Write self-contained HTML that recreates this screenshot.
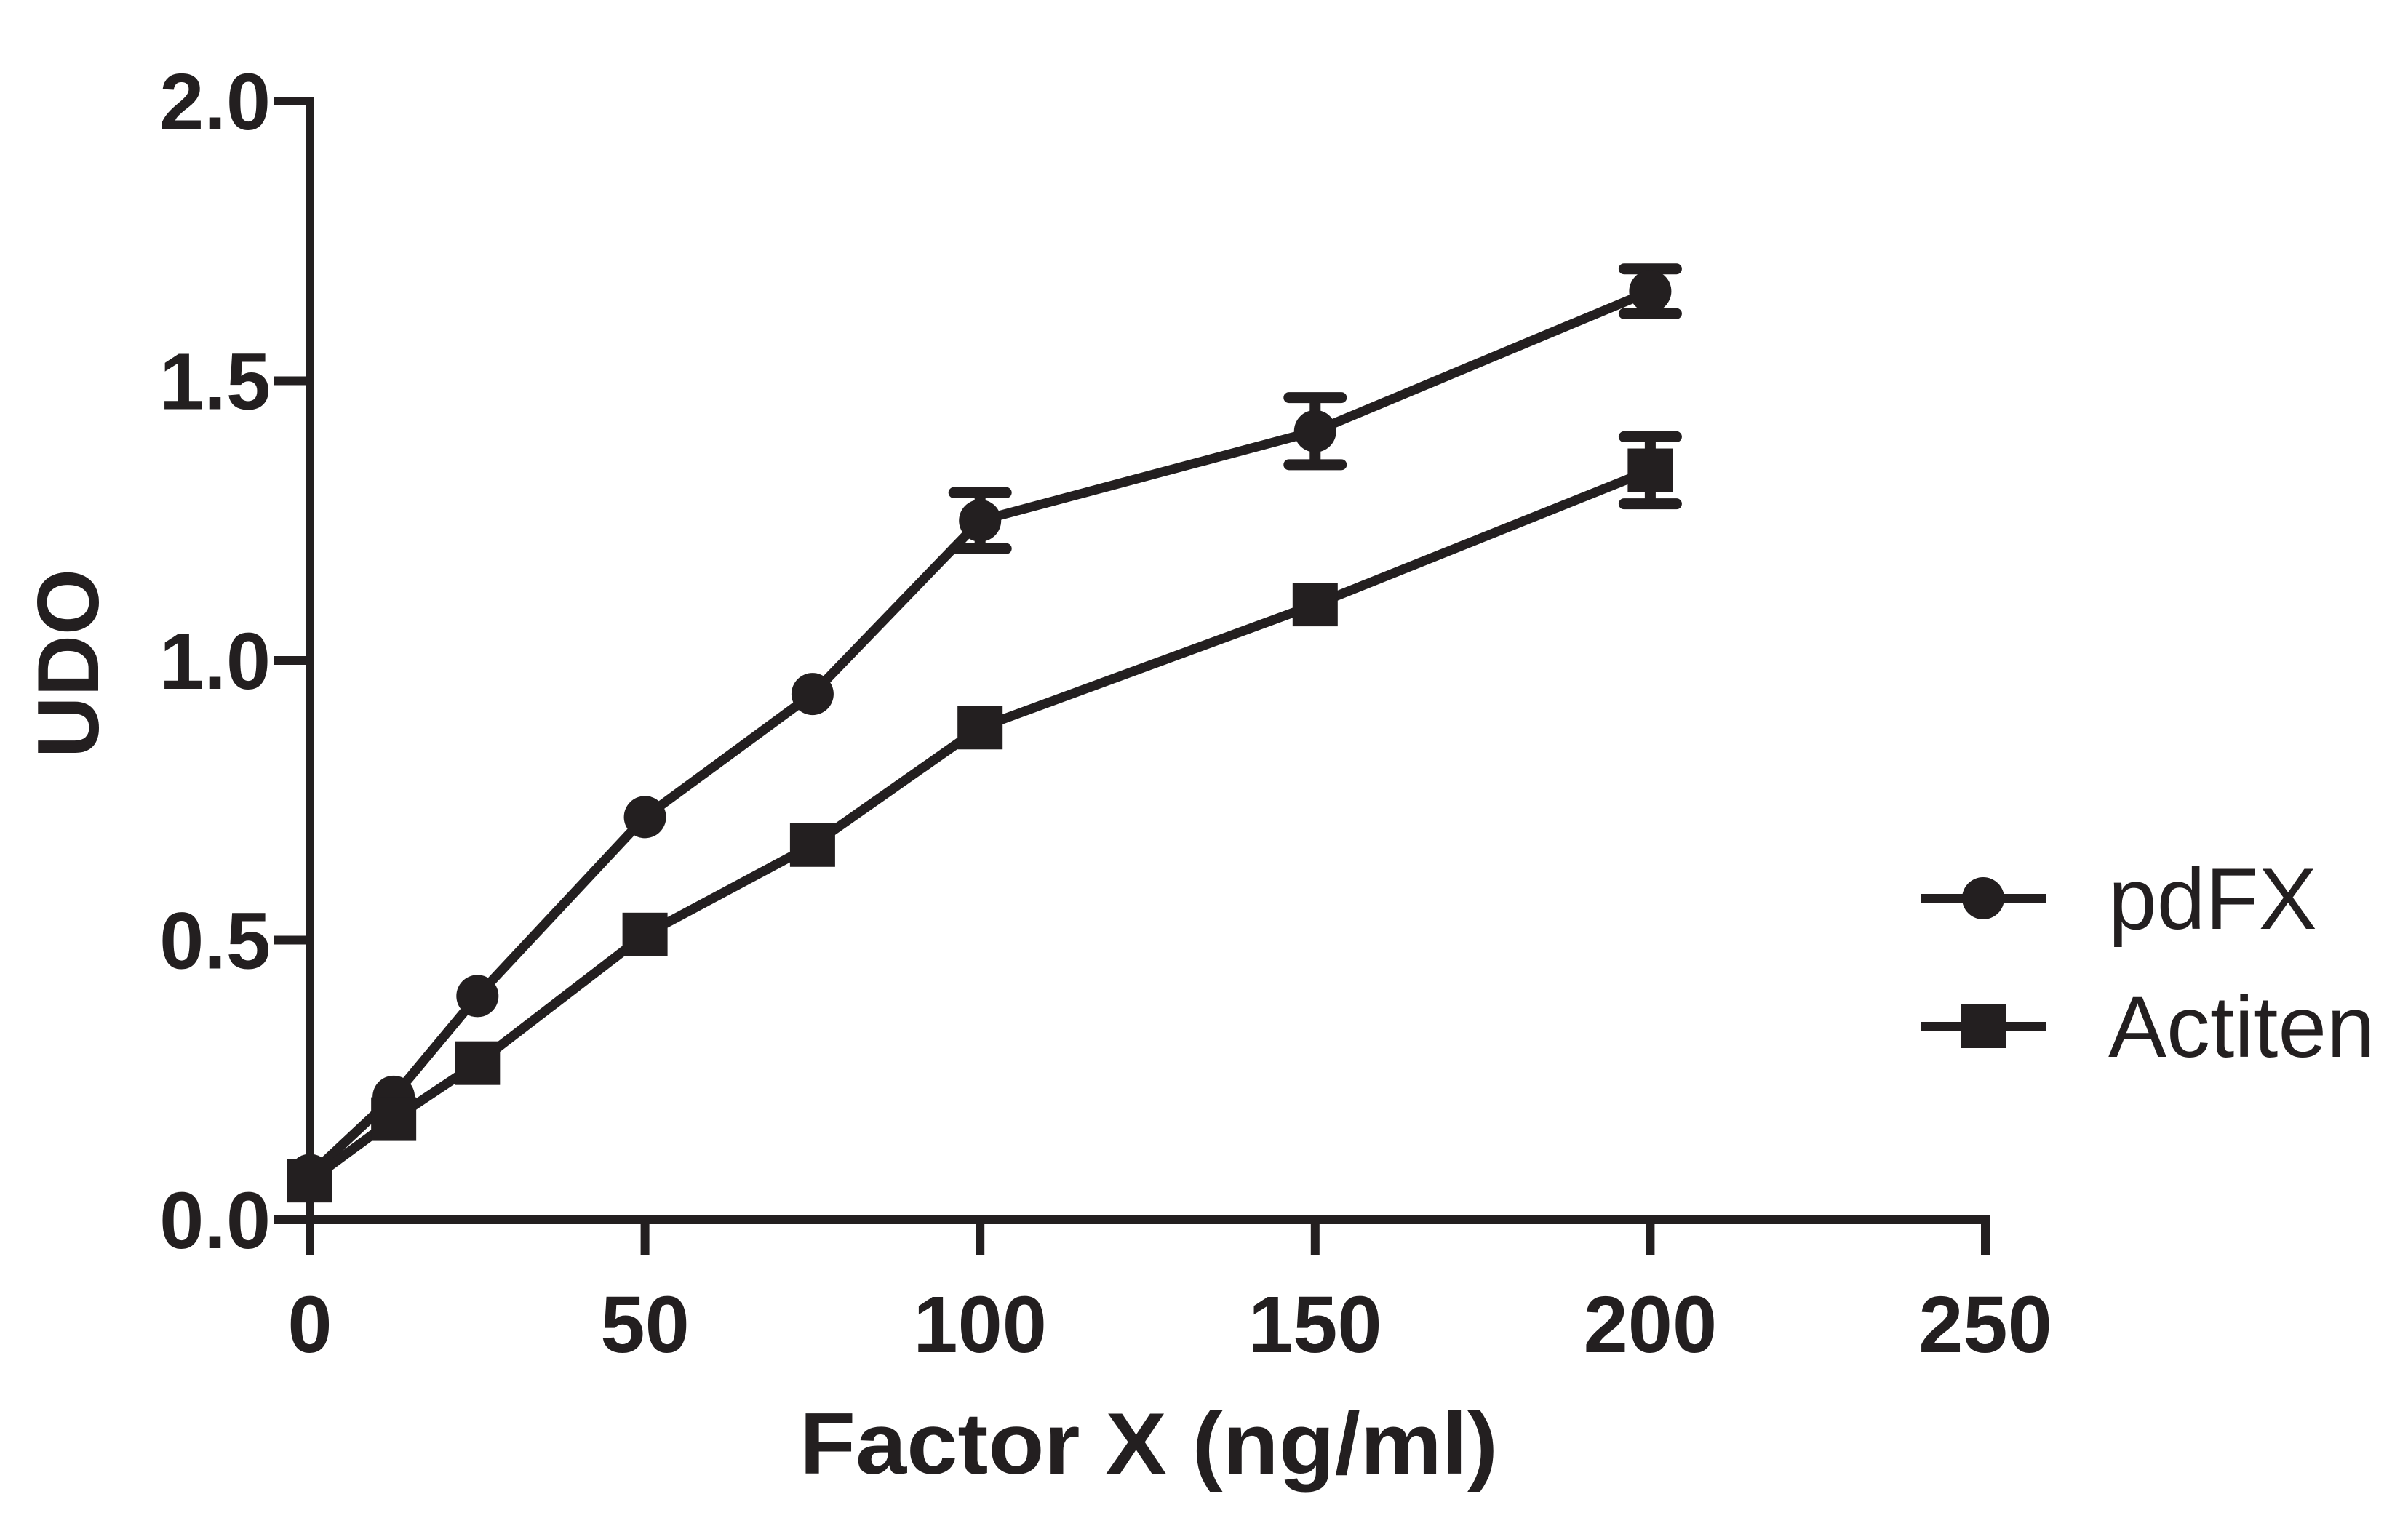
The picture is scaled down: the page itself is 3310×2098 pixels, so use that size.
<!DOCTYPE html>
<html><head><meta charset="utf-8"><style>body{margin:0;background:#fff}svg{display:block}</style></head>
<body>
<svg id="chart" width="3310" height="2098" xmlns="http://www.w3.org/2000/svg" font-family="Liberation Sans, sans-serif"></svg>
<script>
const xCategories = [0, 12.5, 25, 50, 75, 100, 150, 200];
const pdfxValues = [0.08, 0.22, 0.40, 0.72, 0.94, 1.25, 1.41, 1.66];
const pdfxErrors = [0, 0, 0, 0, 0, 0.05, 0.06, 0.04];
const actitenValues = [0.07, 0.18, 0.28, 0.51, 0.67, 0.88, 1.10, 1.34];
const actitenErrors = [0, 0, 0, 0, 0, 0, 0, 0.06];
const xTicks = [0, 50, 100, 150, 200, 250];
const yTicks = [0, 0.5, 1.0, 1.5, 2.0];
const yTickLabels = ["0.0", "0.5", "1.0", "1.5", "2.0"];

const svg = document.getElementById('chart');
const NS = 'http://www.w3.org/2000/svg';
const X0 = 426, X1 = 2729, Y0 = 1677, Y1 = 139;
const sx = v => X0 + (v / 250) * (X1 - X0);
const sy = v => Y0 - (v / 2) * (Y0 - Y1);
const C = '#231f20';
function mk(tag, attrs, parent) {
  const e = document.createElementNS(NS, tag);
  for (const k in attrs) e.setAttribute(k, attrs[k]);
  (parent || svg).appendChild(e);
  return e;
}
let a = mk('line', {x1: X0, y1: Y1 - 5, x2: X0, y2: Y0 + 6, stroke: C, 'stroke-width': 12});


a = mk('line', {x1: X0 - 6, y1: Y0, x2: X1 + 6, y2: Y0, stroke: C, 'stroke-width': 12});


yTicks.forEach((t, i) => {
  const l = mk('line', {x1: X0 - 50, y1: sy(t), x2: X0, y2: sy(t), stroke: C, 'stroke-width': 12});
  
  
  const tx = mk('text', {x: 372, y: sy(t) + 39, 'text-anchor': 'end', 'font-size': 110, 'font-weight': 'bold', fill: C});
  tx.textContent = yTickLabels[i];
  
  
});
xTicks.forEach(t => {
  const l = mk('line', {x1: sx(t), y1: Y0, x2: sx(t), y2: Y0 + 48, stroke: C, 'stroke-width': 12});
  
  
  const tx = mk('text', {x: sx(t), y: 1859, 'text-anchor': 'middle', 'font-size': 110, 'font-weight': 'bold', fill: C});
  tx.textContent = String(t);
  
  
});
let t = mk('text', {x: 1099, y: 2026, 'font-size': 120, 'font-weight': 'bold', fill: C, textLength: 960, lengthAdjust: 'spacingAndGlyphs'});
t.textContent = 'Factor X (ng/ml)';


t = mk('text', {x: -130, y: 0, 'font-size': 120, 'font-weight': 'bold', fill: C, textLength: 260, lengthAdjust: 'spacingAndGlyphs', transform: 'translate(135,912) rotate(-90)'});
t.textContent = 'UDO';



function series(vals, errs, shape, name) {
  const g = mk('g', {});
  
  
  const pts = xCategories.map((x, i) => sx(x) + ',' + sy(vals[i])).join(' ');
  const pl = mk('polyline', {points: pts, fill: 'none', stroke: C, 'stroke-width': 13, 'stroke-linejoin': 'round'}, g);
  
  
  xCategories.forEach((x, i) => {
    const cx = sx(x), cy = sy(vals[i]);
    if (errs[i] > 0) {
      const hi = sy(vals[i] + errs[i]), lo = sy(vals[i] - errs[i]);
      const e = mk('path', {d: `M${cx},${hi}V${lo}M${cx-36},${hi}H${cx+36}M${cx-36},${lo}H${cx+36}`, stroke: C, 'stroke-width': 15, 'stroke-linecap': 'round', fill: 'none'}, g);
      
      
    }
    let m;
    if (shape === 'circle') m = mk('circle', {cx, cy, r: 29, fill: C}, g);
    else m = mk('rect', {x: cx - 31, y: cy - 30, width: 62, height: 60, fill: C}, g);
    
    
  });
}
series(pdfxValues, pdfxErrors, 'circle', 'pdfx');
series(actitenValues, actitenErrors, 'square', 'actiten');

[['pdFX', 'circle', 1235], ['Actiten', 'square', 1411]].forEach(([lab, shape, y]) => {
  const g = mk('g', {});
  
  
  mk('line', {x1: 2640, y1: y, x2: 2812, y2: y, stroke: C, 'stroke-width': 12}, g);
  if (shape === 'circle') mk('circle', {cx: 2726, cy: y, r: 29, fill: C}, g);
  else mk('rect', {x: 2695, y: y - 30, width: 62, height: 60, fill: C}, g);
  const tx = mk('text', {x: 2898, y: y + 42, 'font-size': 120, fill: C}, g);
  tx.textContent = lab;
});
</script>
</body></html>
